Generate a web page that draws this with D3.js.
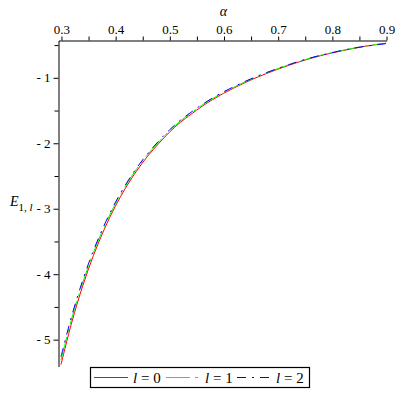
<!DOCTYPE html>
<html>
<head>
<meta charset="utf-8">
<script src="https://cdn.jsdelivr.net/npm/d3@7"></script>
<style>
  body { margin: 0; background: #fff; }
  svg { display: block; }
</style>
</head>
<body>
<div id="chart"></div>
<script>
// alpha grid and energies
const alpha = [0.30, 0.32, 0.34, 0.36, 0.38, 0.40, 0.42, 0.44, 0.46, 0.48, 0.50,
    0.52, 0.54, 0.56, 0.58, 0.60, 0.62, 0.64, 0.66, 0.68, 0.70,
    0.72, 0.74, 0.76, 0.78, 0.80, 0.82, 0.84, 0.86, 0.88, 0.90];
const e0 = [-5.39, -4.74, -4.19, -3.72, -3.32, -2.975, -2.68, -2.425, -2.205, -2.015, -1.84,
    -1.69, -1.565, -1.445, -1.34, -1.245, -1.16, -1.08, -1.007, -0.94, -0.877,
    -0.818, -0.763, -0.713, -0.668, -0.628, -0.592, -0.558, -0.528, -0.502, -0.48];
const e1 = [-5.32, -4.68, -4.14, -3.675, -3.28, -2.94, -2.65, -2.395, -2.18, -1.99, -1.82,
    -1.67, -1.545, -1.427, -1.325, -1.23, -1.148, -1.068, -0.997, -0.93, -0.867,
    -0.81, -0.755, -0.707, -0.662, -0.623, -0.588, -0.554, -0.525, -0.50, -0.48];
const e2 = [-5.27, -4.64, -4.105, -3.645, -3.255, -2.917, -2.63, -2.38, -2.165, -1.978, -1.806,
    -1.658, -1.535, -1.418, -1.315, -1.222, -1.14, -1.062, -0.991, -0.926, -0.865,
    -0.808, -0.754, -0.705, -0.662, -0.623, -0.588, -0.556, -0.528, -0.507, -0.485];

const xMajor = [0.3, 0.4, 0.5, 0.6, 0.7, 0.8, 0.9];
const xMinor = [0.35, 0.45, 0.55, 0.65, 0.75, 0.85];
const yMajor = [-1, -2, -3, -4, -5];
const yMinor = [-0.5, -1.5, -2.5, -3.5, -4.5];

const series = [
    { name: '0', values: e0, color: '#ff0000', dash: null },
    { name: '1', values: e1, color: '#00ff00', dash: '24,5,3,5' },
    { name: '2', values: e2, color: '#0000ff', dash: '9,6,2,6' }
];

const FONT = '"Liberation Serif", "Times New Roman", "DejaVu Serif", serif';
const W = 400, H = 400;
const svg = d3.select('#chart').append('svg')
    .attr('width', W).attr('height', H)
    .attr('font-family', FONT);

const x = d3.scaleLinear().domain([0.2945, 0.9]).range([58, 386]);
const y = d3.scaleLinear().domain([-5.41, -0.43]).range([366, 40]);

// top x axis
svg.append('g')
    .attr('transform', 'translate(0.5,40.5)')
    .call(d3.axisTop(x).tickValues(xMajor).tickSize(4).tickSizeOuter(0)
        .tickFormat(d3.format('.1f')));
svg.append('g')
    .attr('transform', 'translate(0.5,40.5)')
    .call(d3.axisTop(x).tickValues(xMinor).tickSize(4).tickSizeOuter(0).tickFormat(''))
    .select('.domain').remove();

// left y axis
svg.append('g')
    .attr('transform', 'translate(58.5,0.5)')
    .call(d3.axisLeft(y).tickValues(yMajor).tickSize(5).tickSizeOuter(0)
        .tickFormat(d => '- ' + Math.abs(d)));
svg.append('g')
    .attr('transform', 'translate(58.5,0.5)')
    .call(d3.axisLeft(y).tickValues(yMinor).tickSize(4).tickSizeOuter(0).tickFormat(''))
    .select('.domain').remove();

svg.selectAll('g').attr('font-family', FONT);
svg.selectAll('.tick text')
    .attr('font-size', '13px').attr('fill', '#000');
svg.selectAll('.domain, .tick line').attr('stroke', '#000').attr('stroke-width', 1);

// axis titles
svg.append('text')
    .attr('x', x(0.6)).attr('y', 16)
    .attr('text-anchor', 'middle')
    .attr('font-size', '14px').attr('font-style', 'italic')
    .text('α');

const yl = svg.append('text').attr('x', 10).attr('y', 206)
    .attr('font-size', '14px');
yl.append('tspan').attr('font-style', 'italic').text('E');
yl.append('tspan').attr('font-size', '11px').attr('dy', 5).text('1, ');
yl.append('tspan').attr('font-size', '11px').attr('font-style', 'italic').text('l');

// curves
const line = d3.line()
    .x(d => x(d[0]))
    .y(d => y(d[1]))
    .curve(d3.curveCatmullRom.alpha(0.5));

series.forEach(s => {
    svg.append('path')
        .datum(alpha.map((a, i) => [a, s.values[i]]))
        .attr('d', line)
        .attr('fill', 'none')
        .attr('stroke', s.color)
        .attr('stroke-width', 1)
        .attr('stroke-dasharray', s.dash);
});

// legend
const lg = svg.append('g').attr('transform', 'translate(90,367)');
lg.append('rect')
    .attr('x', 0.5).attr('y', 0.5).attr('width', 219).attr('height', 20)
    .attr('fill', '#fff').attr('stroke', '#000').attr('stroke-width', 1.2);
const itemX = [4, 76, 147];
series.forEach((s, i) => {
    lg.append('line')
        .attr('x1', itemX[i]).attr('x2', itemX[i] + 34)
        .attr('y1', 10.5).attr('y2', 10.5)
        .attr('stroke', s.color).attr('stroke-width', 1)
        .attr('stroke-dasharray', s.dash);
    const t = lg.append('text')
        .attr('x', itemX[i] + 39).attr('y', 15.5)
        .attr('font-size', '15px');
    t.append('tspan').attr('font-style', 'italic').text('l');
    t.append('tspan').text(' = ' + s.name);
});
</script>
</body>
</html>
